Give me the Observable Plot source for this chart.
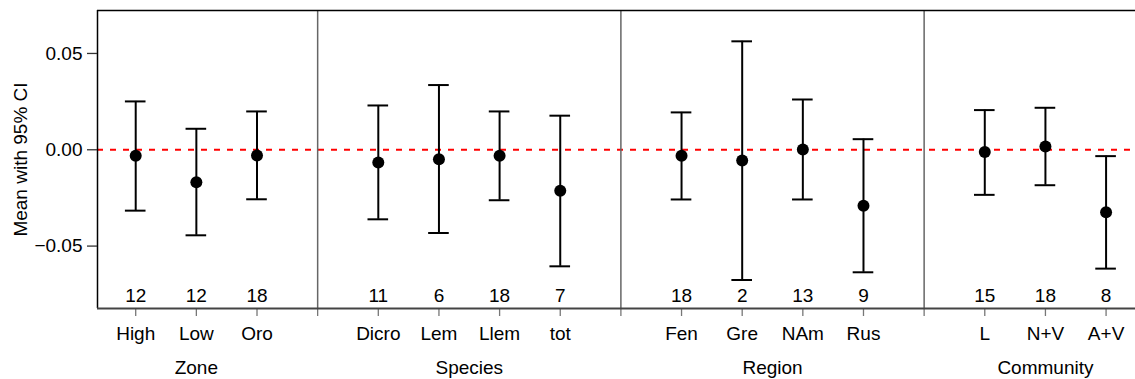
<!DOCTYPE html>
<html>
<head>
<meta charset="utf-8">
<script src="https://cdn.jsdelivr.net/npm/d3@7"></script>
<script src="https://cdn.jsdelivr.net/npm/@observablehq/plot@0.6"></script>
<style>
  html, body { margin: 0; padding: 0; background: #fff; }
  #chart svg { display: block; }
</style>
</head>
<body>
<div id="chart"></div>
<script>
// ---- data ----
const groups   = ["Zone", "Species", "Region", "Community"];
const category = ["High", "Low", "Oro", "Dicro", "Lem", "Llem", "tot", "Fen", "Gre", "NAm", "Rus", "L", "N+V", "A+V"];
const group    = ["Zone", "Zone", "Zone", "Species", "Species", "Species", "Species",
                  "Region", "Region", "Region", "Region", "Community", "Community", "Community"];
const mean     = [-0.0031, -0.0168, -0.0030, -0.0066, -0.0049, -0.0031, -0.0213,
                  -0.0031, -0.0056, 0.0002, -0.0291, -0.0012, 0.0017, -0.0324];
const lower    = [-0.0316, -0.0444, -0.0257, -0.0361, -0.0432, -0.0262, -0.0605,
                  -0.0258, -0.0676, -0.0258, -0.0636, -0.0234, -0.0184, -0.0617];
const upper    = [0.0251, 0.0109, 0.0199, 0.0230, 0.0336, 0.0199, 0.0177,
                  0.0194, 0.0563, 0.0261, 0.0055, 0.0206, 0.0218, -0.0033];
const nObs     = [12, 12, 18, 11, 6, 18, 7, 18, 2, 13, 9, 15, 18, 8];
const yTicks   = [-0.05, 0, 0.05];
const yLabel   = "Mean with 95% CI";

// ---- derived table ----
const rows = category.map((c, i) => ({
  category: c, group: group[i], mean: mean[i], lower: lower[i], upper: upper[i], n: nObs[i],
  pos: i + groups.indexOf(group[i])
}));
const dividers = groups.slice(1).map(g => rows.find(r => r.group === g).pos - 1);
const groupCenters = groups.map(g => ({ group: g, pos: d3.mean(rows.filter(r => r.group === g), r => r.pos) }));

const xDomain = [-0.63, 16.65];
const yDomain = [-0.0824, 0.0723];
const capHalf = 0.17;
const font = "'Liberation Sans', Arial, Helvetica, sans-serif";

const chart = Plot.plot({
  width: 1135,
  height: 379,
  marginLeft: 97,
  marginTop: 10,
  marginBottom: 71,
  marginRight: -10,
  style: { fontFamily: font, fontSize: "19px", background: "#fff", color: "#000", overflow: "hidden" },
  x: { type: "linear", domain: xDomain, axis: null },
  y: { domain: yDomain, axis: null },
  marks: [
    // reference line at zero
    Plot.ruleY([0], { stroke: "#ff0000", strokeWidth: 2, strokeDasharray: "6,7" }),
    // panel dividers
    Plot.ruleX(dividers, { stroke: "#666", strokeWidth: 1.5 }),
    // x ticks (categories + dividers)
    Plot.axisX([...rows.map(r => r.pos), ...dividers], {
      anchor: "bottom", tickSize: 8, tickFormat: () => "", stroke: "#777", strokeWidth: 1.3, label: null
    }),
    // frame: left & top black, bottom dark gray axis line
    Plot.ruleX([xDomain[0]], { stroke: "#000", strokeWidth: 1.5 }),
    Plot.ruleY([yDomain[1]], { stroke: "#000", strokeWidth: 1.5 }),
    Plot.ruleY([yDomain[0]], { stroke: "#444", strokeWidth: 2 }),
    // y axis
    Plot.axisY(yTicks, {
      anchor: "left", tickSize: 10, tickPadding: 5, tickFormat: d3.format(".2f"),
      stroke: "#333", strokeWidth: 1.3, fontSize: 19, label: null
    }),
    Plot.text([yLabel], { frameAnchor: "left", textAnchor: "middle", lineAnchor: "middle", dx: -77, rotate: -90, fontSize: 19, fill: "#000" }),
    // error bars
    Plot.ruleX(rows, { x: "pos", y1: "lower", y2: "upper", stroke: "#000", strokeWidth: 2 }),
    Plot.ruleY(rows, { y: "upper", x1: d => d.pos - capHalf, x2: d => d.pos + capHalf, stroke: "#000", strokeWidth: 2 }),
    Plot.ruleY(rows, { y: "lower", x1: d => d.pos - capHalf, x2: d => d.pos + capHalf, stroke: "#000", strokeWidth: 2 }),
    Plot.dot(rows, { x: "pos", y: "mean", r: 6, fill: "#000", stroke: "none" }),
    // n labels
    Plot.text(rows, { x: "pos", text: d => String(d.n), frameAnchor: "bottom", lineAnchor: "bottom", dy: -7, fontSize: 19, fill: "#000" }),
    // category labels
    Plot.text(rows, { x: "pos", text: "category", frameAnchor: "bottom", lineAnchor: "bottom", dy: 31, fontSize: 19, fill: "#000" }),
    // group labels
    Plot.text(groupCenters, { x: "pos", text: "group", frameAnchor: "bottom", lineAnchor: "bottom", dy: 65, fontSize: 19, fill: "#000" })
  ]
});
document.getElementById("chart").appendChild(chart);
</script>
</body>
</html>
